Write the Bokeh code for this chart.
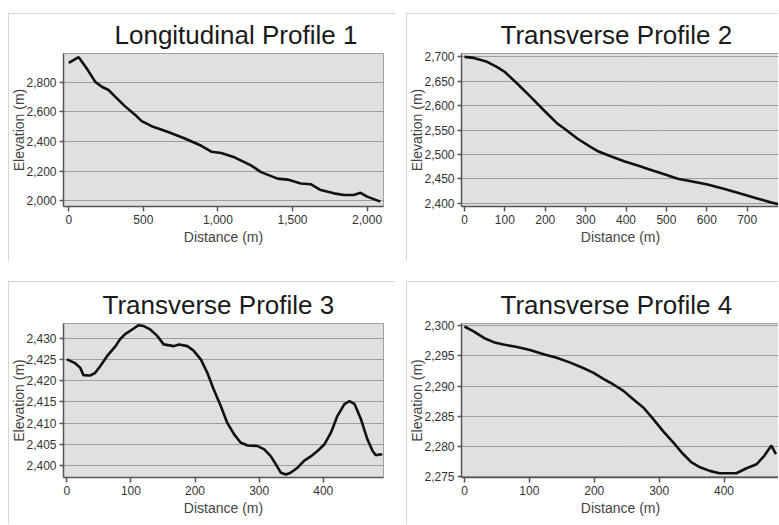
from bokeh.plotting import figure
from bokeh.layouts import column, row
from bokeh.models import NumeralTickFormatter, FixedTicker, Range1d
from bokeh.embed import file_html
from bokeh.resources import INLINE

# ---- data ----
p1_dist = [0, 67, 122, 178, 222, 267, 311, 378, 444, 489, 556, 667, 778, 889, 956, 1022,
           1111, 1222, 1289, 1400, 1467, 1556, 1622, 1689, 1778, 1844, 1911, 1956, 2000, 2089]
p1_elev = [2933, 2971, 2893, 2804, 2771, 2749, 2704, 2638, 2582, 2538, 2504, 2464, 2420, 2371,
           2331, 2322, 2293, 2238, 2193, 2149, 2142, 2116, 2111, 2071, 2049, 2038, 2038, 2053,
           2027, 1993]
p1_xticks = [0, 500, 1000, 1500, 2000]
p1_yticks = [2000, 2200, 2400, 2600, 2800]

p2_dist = [0, 23, 56, 81, 100, 131, 164, 197, 230, 247, 280, 313, 329, 362, 395, 429, 462,
           495, 528, 561, 602, 644, 685, 727, 760, 780]
p2_elev = [2700, 2698, 2690, 2679, 2669, 2645, 2618, 2590, 2563, 2553, 2532, 2515, 2507,
           2496, 2486, 2477, 2468, 2459, 2450, 2445, 2438, 2429, 2419, 2409, 2401, 2397]
p2_xticks = [0, 100, 200, 300, 400, 500, 600, 700]
p2_yticks = [2400, 2450, 2500, 2550, 2600, 2650, 2700]

p3_dist = [0, 13, 21, 26, 36, 44, 52, 63, 76, 83, 91, 102, 112, 120, 130, 141, 151, 167, 175,
           188, 198, 209, 219, 229, 240, 250, 261, 271, 282, 297, 308, 318, 326, 334, 342, 349,
           360, 370, 381, 391, 402, 412, 422, 433, 441, 449, 459, 469, 477, 482, 488, 492]
p3_elev = [2425.0, 2424.1, 2423.0, 2421.3, 2421.2, 2421.8, 2423.4, 2425.8, 2428.1, 2429.7,
           2430.9, 2432.0, 2433.0, 2432.8, 2432.0, 2430.5, 2428.5, 2428.1, 2428.5, 2428.1,
           2427.0, 2425.0, 2421.9, 2418.0, 2414.1, 2410.2, 2407.4, 2405.5, 2404.8, 2404.7,
           2403.9, 2402.3, 2400.4, 2398.4, 2398.0, 2398.4, 2399.6, 2401.2, 2402.3, 2403.5,
           2405.1, 2407.8, 2411.7, 2414.5, 2415.2, 2414.5, 2410.9, 2406.2, 2403.5, 2402.5,
           2402.7, 2402.7]
p3_xticks = [0, 100, 200, 300, 400]
p3_yticks = [2400, 2405, 2410, 2415, 2420, 2425, 2430]

p4_dist = [0, 14, 30, 45, 60, 81, 101, 122, 142, 163, 183, 199, 214, 229, 245, 260, 276, 291,
           306, 322, 337, 350, 363, 378, 393, 419, 434, 450, 462, 473, 480]
p4_elev = [2299.9, 2299.1, 2298.0, 2297.3, 2296.9, 2296.5, 2296.0, 2295.3, 2294.7, 2293.9,
           2293.0, 2292.2, 2291.2, 2290.3, 2289.2, 2287.8, 2286.4, 2284.5, 2282.5, 2280.6,
           2278.7, 2277.3, 2276.5, 2275.9, 2275.5, 2275.5, 2276.3, 2277.0, 2278.4, 2280.1,
           2278.7]
p4_xticks = [0, 100, 200, 300, 400]
p4_yticks = [2275, 2280, 2285, 2290, 2295, 2300]

titles = ["Longitudinal Profile 1", "Transverse Profile 2", "Transverse Profile 3",
          "Transverse Profile 4"]

FONT = "Liberation Sans"


def make(title, xs, ys, xr, yr, xt, yt, w, h, borders, title_off, styles):
    p = figure(width=w, height=h, output_backend="svg", toolbar_location=None,
               x_range=Range1d(*xr), y_range=Range1d(*yr),
               min_border_left=borders[0], min_border_right=borders[1],
               min_border_top=borders[2], min_border_bottom=borders[3])
    p.title.text = title
    p.title.text_font = FONT
    p.title.text_font_size = "26px"
    p.title.text_font_style = "normal"
    p.title.text_color = "#1a1a1a"
    p.title.align = "left"
    p.title.offset = title_off
    p.title.standoff = 8
    p.background_fill_color = "#e0e0e0"
    p.border_fill_color = "white"
    p.outline_line_color = "#a0a0a0"
    p.outline_line_width = 1
    p.line(xs, ys, line_color="#111111", line_width=2.6)
    p.xgrid.grid_line_color = None
    p.ygrid.grid_line_color = "#5a5a5a"
    p.ygrid.grid_line_dash = "1 1"
    p.ygrid.grid_line_width = 1
    p.xaxis.ticker = FixedTicker(ticks=xt)
    p.yaxis.ticker = FixedTicker(ticks=yt)
    p.xaxis.formatter = NumeralTickFormatter(format="0,0")
    p.yaxis.formatter = NumeralTickFormatter(format="0,0")
    p.xaxis.axis_label = "Distance (m)"
    p.yaxis.axis_label = "Elevation (m)"
    for ax in (p.xaxis[0], p.yaxis[0]):
        ax.axis_label_text_font = FONT
        ax.axis_label_text_font_size = "14px"
        ax.axis_label_text_font_style = "normal"
        ax.axis_label_text_color = "#444444"
        ax.major_label_text_font = FONT
        ax.major_label_text_font_size = "12px"
        ax.major_label_text_color = "#333333"
        ax.axis_line_color = "#555555"
        ax.axis_line_width = 1.5
        ax.major_tick_line_color = "#555555"
        ax.major_tick_line_width = 1.5
        ax.major_tick_in = 0
        ax.minor_tick_line_color = None
    p.xaxis.major_tick_out = 5
    p.xaxis.major_label_standoff = 3
    p.xaxis.axis_label_standoff = 2
    p.yaxis.major_tick_out = 4
    p.yaxis.major_label_standoff = 3
    p.yaxis.axis_label_standoff = -4
    p.styles = styles
    return p


def css(clip):
    return {"outline": "1px solid #c8c8c8", "outline-offset": "-1px", "clip-path": clip}


f1 = make(titles[0], p1_dist, p1_elev, (-35, 2110), (1960, 2996), p1_xticks, p1_yticks,
          387, 248, (54, 12, 40, 53), 51, css("none"))
f2 = make(titles[1], p2_dist, p2_elev, (-7.4, 780), (2393, 2707), p2_xticks, p2_yticks,
          373, 248, (54, 0, 40, 55), 39, css("inset(0px 1px 0px 0px)"))
f3 = make(titles[2], p3_dist, p3_elev, (-5.2, 494), (2397.3, 2433.4), p3_xticks, p3_yticks,
          387, 244, (55, 12, 42, 48), 39, css("inset(0px 0px 1px 0px)"))
f4 = make(titles[3], p4_dist, p4_elev, (-4.6, 485.5), (2274.8, 2300.4), p4_xticks, p4_yticks,
          373, 244, (54, 0, 42, 48), 39, css("inset(0px 1px 1px 0px)"))

r1 = row(f1, f2, spacing=11)
r2 = row(f3, f4, spacing=11)
layout = column(r1, r2, spacing=20)
layout.margin = (13, 0, 0, 8)

open("out.html", "w").write(file_html(layout, INLINE))
